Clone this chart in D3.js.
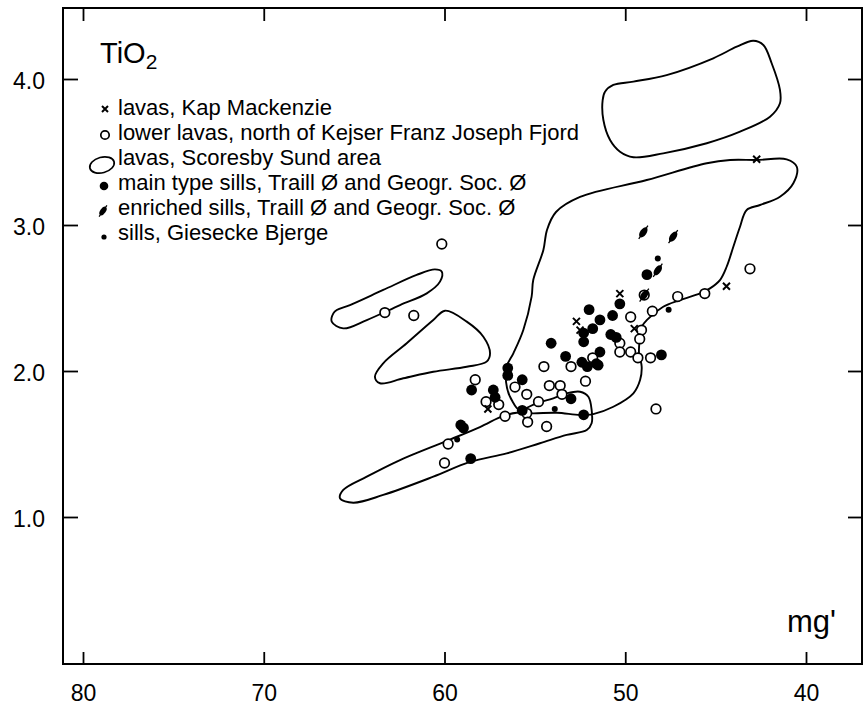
<!DOCTYPE html>
<html><head><meta charset="utf-8">
<script src="https://cdn.jsdelivr.net/npm/d3@7"></script>
<style>
body{margin:0;background:#fff}
svg{display:block}
text{font-family:"Liberation Sans",Arial,Helvetica,sans-serif;fill:#000}
</style>
</head><body>
<svg id="c" width="867" height="705"></svg>
<script>
// ---------- data ----------
const xTicks = [80, 70, 60, 50, 40];
const yTicks = [1.0, 2.0, 3.0, 4.0];
const legendLabels = [
  "lavas, Kap Mackenzie",
  "lower lavas, north of Kejser Franz Joseph Fjord",
  "lavas, Scoresby Sund area",
  "main type sills, Traill Ø and Geogr. Soc. Ø",
  "enriched sills, Traill Ø and Geogr. Soc. Ø",
  "sills, Giesecke Bjerge"
];
// [mg', TiO2]
const lavasKapMackenzie = [[42.73,3.45],[44.4,2.58],[50.3,2.53],[49.5,2.29],[52.7,2.34],[52.5,2.28],[57.6,1.74]];
const lowerLavas = [[60.15,2.87],[63.3,2.40],[61.7,2.38],[58.3,1.94],[57.7,1.79],[57.0,1.77],[56.65,1.69],[59.8,1.50],[60.0,1.37],
  [54.5,2.03],[56.1,1.89],[55.45,1.84],[54.8,1.79],[54.2,1.90],[53.6,1.90],[53.5,1.84],[53.0,2.03],[52.2,1.93],[51.8,2.09],
  [55.45,1.71],[55.4,1.65],[54.35,1.62],[50.3,2.19],[50.3,2.13],[49.7,2.13],[49.3,2.09],[48.6,2.09],[49.7,2.37],[49.1,2.28],
  [49.2,2.22],[48.5,2.41],[48.3,1.74],[47.1,2.51],[45.6,2.53],[43.1,2.70],[48.95,2.52]];
const mainSills = [[52.0,2.42],[51.4,2.35],[50.7,2.38],[50.3,2.46],[48.8,2.66],[52.3,2.20],[51.8,2.29],[50.8,2.25],[50.5,2.23],
  [54.1,2.19],[53.3,2.10],[52.4,2.06],[52.1,2.03],[51.5,2.04],[51.4,2.13],[56.5,2.02],[56.5,1.97],[55.7,1.94],[58.5,1.87],
  [57.3,1.87],[57.2,1.82],[53.0,1.81],[55.7,1.73],[52.3,1.70],[59.1,1.63],[58.95,1.61],[58.55,1.40],[48.0,2.11],[52.3,2.26],[51.6,2.05]];
const enrichedSills = [[49.0,2.95],[47.35,2.92],[48.2,2.69],[48.95,2.52]];
const gieseckeSills = [[48.2,2.77],[47.6,2.42],[53.9,1.74],[59.3,1.53]];
// Scoresby Sund lava fields (outlines)
const scoresbyMain = [[65.78,1.128],[65.60,1.185],[64.30,1.276],[62.46,1.390],[59.88,1.521],[58.04,1.616],[56.75,1.692],[56.01,1.714],
  [55.09,1.710],[53.79,1.714],[52.50,1.699],[51.77,1.705],[50.66,1.755],[49.55,1.847],[49.18,1.938],[49.09,2.029],[49.24,2.123],
  [49.18,2.235],[49.09,2.303],[48.81,2.349],[47.90,2.440],[46.97,2.486],[45.86,2.532],[45.31,2.566],[44.76,2.623],[44.39,2.714],
  [44.02,2.851],[43.65,2.988],[43.28,3.103],[42.54,3.137],[41.44,3.194],[40.70,3.286],[40.51,3.399],[41.07,3.450],[42.73,3.445],
  [44.20,3.445],[45.49,3.423],[48.81,3.308],[52.50,3.192],[53.83,3.089],[54.33,2.966],[54.53,2.829],[55.09,2.623],[55.18,2.509],
  [55.64,2.281],[56.19,2.121],[56.56,2.029],[56.54,1.884],[56.19,1.781],[55.85,1.735],[54.90,1.779],[53.98,1.813],[53.24,1.847],
  [52.50,1.858],[52.04,1.824],[51.86,1.733],[51.86,1.642],[52.13,1.596],[53.24,1.562],[54.72,1.505],[56.56,1.436],[58.59,1.377],
  [60.62,1.276],[63.39,1.151],[65.05,1.098]];
const scoresbyUpper = [[51.12,3.913],[50.66,3.959],[49.55,3.982],[47.71,4.027],[45.13,4.142],[43.83,4.221],[42.92,4.262],[42.36,4.233],
  [41.90,4.108],[41.44,3.925],[41.44,3.834],[41.99,3.742],[43.65,3.639],[45.49,3.560],[47.90,3.491],[49.55,3.464],[50.29,3.502],
  [50.84,3.582],[51.21,3.719],[51.25,3.856]];
const scoresbyLeftA = [[66.15,2.395],[66.24,2.338],[65.60,2.292],[64.30,2.349],[62.46,2.452],[60.98,2.532],[60.25,2.612],[60.15,2.680],
  [60.53,2.696],[61.54,2.658],[63.39,2.555],[65.23,2.452],[65.96,2.418]];
const scoresbyLeftB = [[59.97,2.413],[58.77,2.338],[57.85,2.235],[57.48,2.121],[57.67,2.064],[58.77,2.029],[60.62,1.995],[62.28,1.950],
  [63.57,1.916],[63.85,1.961],[63.39,2.053],[62.09,2.190],[60.62,2.349]];

// ---------- layout ----------
const L = 63, R = 862, T = 8, B = 664;
const svg = d3.select("#c");
const x = d3.scaleLinear().domain([80, 40]).range([83, 806]);
const y = d3.scaleLinear().domain([0, 4]).range([663, 79]);

// frame
svg.append("rect").attr("x", L).attr("y", T).attr("width", R - L).attr("height", B - T)
  .attr("fill", "none").attr("stroke", "#000").attr("stroke-width", 2);

function styleAxis(g) {
  g.select(".domain").remove();
  g.selectAll(".tick line").attr("stroke", "#000").attr("stroke-width", 1.8);
  g.selectAll("text").attr("font-family", null).style("font-size", "23px").attr("fill", "#000");
}
const gBottom = svg.append("g").attr("transform", `translate(0,${B})`)
  .call(d3.axisBottom(x).tickValues(xTicks).tickSize(-12).tickFormat(d3.format("d")));
styleAxis(gBottom);
gBottom.selectAll("text").attr("y", 37).attr("dy", 0);
const gTop = svg.append("g").attr("transform", `translate(0,${T})`)
  .call(d3.axisTop(x).tickValues(xTicks).tickSize(-13).tickFormat(""));
styleAxis(gTop);
const gLeft = svg.append("g").attr("transform", `translate(${L},0)`)
  .call(d3.axisLeft(y).tickValues(yTicks).tickSize(-15).tickPadding(18).tickFormat(d3.format(".1f")));
styleAxis(gLeft);
gLeft.selectAll("text").attr("dy", "0.4em");
const gRight = svg.append("g").attr("transform", `translate(${R},0)`)
  .call(d3.axisRight(y).tickValues(yTicks).tickSize(-14).tickFormat(""));
styleAxis(gRight);

// ---------- outlines ----------
const outline = d3.line().x(d => x(d[0])).y(d => y(d[1])).curve(d3.curveCatmullRomClosed.alpha(0.5));
[scoresbyMain, scoresbyUpper, scoresbyLeftA, scoresbyLeftB].forEach(p => {
  svg.append("path").attr("d", outline(p)).attr("fill", "none").attr("stroke", "#000")
    .attr("stroke-width", 1.9).attr("stroke-linejoin", "round");
});

// ---------- symbols ----------
function openCircle(g, cx, cy, r) {
  g.append("circle").attr("cx", cx).attr("cy", cy).attr("r", r)
    .attr("fill", "#fff").attr("stroke", "#000").attr("stroke-width", 1.7);
}
function filledCircle(g, cx, cy, r) {
  g.append("circle").attr("cx", cx).attr("cy", cy).attr("r", r).attr("fill", "#000");
}
function enriched(g, cx, cy, s) {
  const e = g.append("g").attr("transform", `translate(${cx},${cy}) rotate(35)`);
  e.append("ellipse").attr("rx", 3.2 * s).attr("ry", 5.8 * s).attr("fill", "#000");
  e.append("line").attr("x1", 0).attr("y1", -8 * s).attr("x2", 0).attr("y2", 8 * s)
    .attr("stroke", "#000").attr("stroke-width", 1.3);
}
function cross(g, cx, cy, h) {
  g.append("path").attr("d", `M${cx - h},${cy - h}L${cx + h},${cy + h}M${cx - h},${cy + h}L${cx + h},${cy - h}`)
    .attr("stroke", "#000").attr("stroke-width", 2).attr("fill", "none");
}

const pts = svg.append("g");
lowerLavas.forEach(d => openCircle(pts, x(d[0]), y(d[1]), 4.8));
mainSills.forEach(d => filledCircle(pts, x(d[0]), y(d[1]), 5.4));
enrichedSills.forEach(d => enriched(pts, x(d[0]), y(d[1]), 1));
gieseckeSills.forEach(d => filledCircle(pts, x(d[0]), y(d[1]), 3));
lavasKapMackenzie.forEach(d => cross(pts, x(d[0]), y(d[1]), 3.5));

// ---------- title & axis label ----------
const ttl = svg.append("text").attr("x", 100).attr("y", 63).style("font-size", "29px");
ttl.append("tspan").text("TiO");
ttl.append("tspan").attr("dy", 6).style("font-size", "21px").text("2");
svg.append("text").attr("x", 836).attr("y", 632).attr("text-anchor", "end").style("font-size", "31px").text("mg'");

// ---------- legend ----------
const lg = svg.append("g");
const base0 = 115, step = 25, mx = 105;
legendLabels.forEach((s, i) => {
  lg.append("text").attr("x", 118).attr("y", base0 + i * step).style("font-size", "22px").text(s);
});
cross(lg, mx, 109, 3);
openCircle(lg, mx, 135, 4.2);
lg.append("ellipse").attr("cx", 102).attr("cy", 165).attr("rx", 12.5).attr("ry", 7.8)
  .attr("transform", "rotate(-15,102,165)").attr("fill", "none").attr("stroke", "#000").attr("stroke-width", 1.7);
filledCircle(lg, 104, 186, 4.3);
enriched(lg, 103, 211, 0.85);
filledCircle(lg, 104, 237, 2.6);
</script>
</body></html>
